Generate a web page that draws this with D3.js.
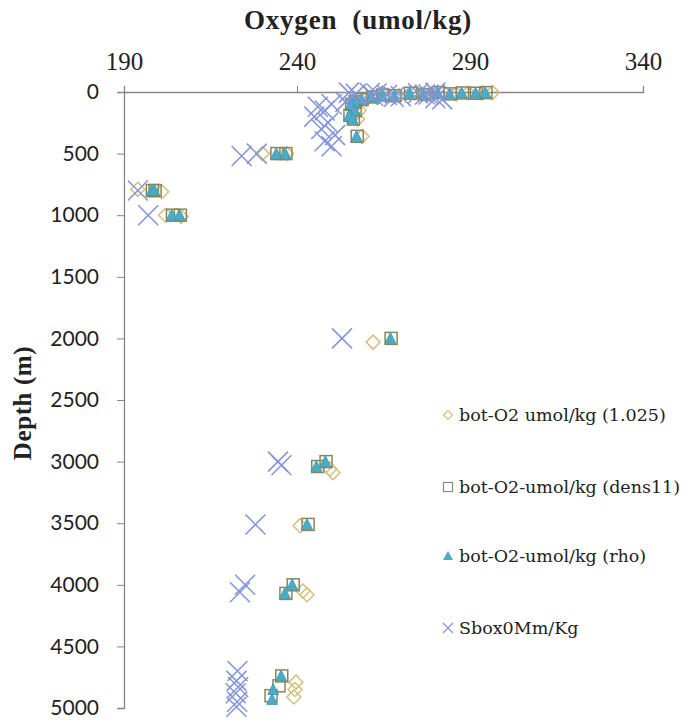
<!DOCTYPE html>
<html><head><meta charset="utf-8">
<script src="https://cdn.jsdelivr.net/npm/d3@7"></script>
<style>body{margin:0;background:#fff}</style>
</head><body>
<script>
const xTicks = [190, 240, 290, 340];
const yTicks = [0, 500, 1000, 1500, 2000, 2500, 3000, 3500, 4000, 4500, 5000];
const seriesNames = ["bot-O2 umol/kg (1.025)", "bot-O2-umol/kg (dens11)", "bot-O2-umol/kg (rho)", "Sbox0Mm/Kg"];

const d1025Depth = [5,10,8,15,5,20,10,30,25,40,60,80,100,150,190,220,360,500,500,810,790,1000,1010,2030,3060,3090,3520,4050,4080,4790,4850,4910];
const d1025O2 = [296.5,293.5,289.5,286,282.5,278.5,274,269.5,266,263,260,258,257,258,256.5,257.5,258.8,230,237,200.9,194,202,206.5,262,249.5,250.4,240.9,241.7,242.9,239.7,239.4,239.1];

const densDepth = [5,10,8,15,5,20,10,30,25,40,60,80,100,150,190,220,360,500,500,800,800,1000,1000,2000,3000,3040,3510,4000,4070,4740,4820,4900];
const densO2 = [294.6,291.8,287.8,284.3,280.8,276.8,272.8,268.3,264.8,261.8,258.8,256.8,255.8,256.8,255.3,256.3,257.4,234.2,236.8,198.2,199,204,206.3,267.2,248.4,246,243.2,238.9,236.8,235.6,234.8,232.5];

const rhoDepth = [5,10,8,15,5,20,10,30,25,40,60,80,100,150,190,220,360,500,500,800,800,1000,1000,2000,3000,3040,3510,4000,4070,4740,4850,4930];
const rhoO2 = [294.4,291.6,287.6,284.1,280.6,276.6,272.6,268.1,264.6,261.6,258.6,256.6,255.6,256.6,255.1,256.1,257.2,234,236.6,198,198.8,203.8,206.1,267,248.2,245.6,242.9,238.6,236.5,235.4,233.1,232.8];

const sboxDepth = [5,15,8,12,10,20,5,30,25,40,35,20,50,60,80,100,120,150,200,250,300,350,400,440,520,500,800,1000,2000,3000,3030,3510,4000,4060,4700,4780,4830,4880,4950,4990];
const sboxO2 = [255,257,261,263,275,277,280,262,266,268,270,278,280,282,254,250,246,248,245,249,247,251,248,250,224,228.4,194,197,253,234.5,235.5,228,225,223.5,222.8,222.5,223,222.3,222.7,222.5];

const W = 699, H = 724;
const svg = d3.select("body").append("svg").attr("width", W).attr("height", H);

const x = d3.scaleLinear().domain([190, 340]).range([124, 643]);
const y = d3.scaleLinear().domain([0, 5000]).range([92, 708]);
const axisColor = "#868686";

// x axis (top)
const gx = svg.append("g").attr("transform", `translate(0,${y(0)})`)
  .call(d3.axisTop(x).tickValues(xTicks).tickSize(6).tickPadding(16).tickFormat(d3.format("d")));
gx.select(".domain").attr("stroke", axisColor).attr("stroke-width", 1.3);
gx.selectAll(".tick line").attr("stroke", axisColor);
gx.selectAll(".tick text").attr("fill", "#222").style("font-family", "'Liberation Serif', serif").style("font-size", "25px");

// y axis
const gy = svg.append("g").attr("transform", `translate(${x(190)},0)`)
  .call(d3.axisLeft(y).tickValues(yTicks).tickSize(7).tickPadding(18).tickFormat(d3.format("d")));
gy.select(".domain").attr("stroke", axisColor).attr("stroke-width", 1.3);
gy.selectAll(".tick line").attr("stroke", axisColor);
gy.selectAll(".tick text").attr("fill", "#222").style("font-family", "Lato, sans-serif").style("font-size", "21px");

// titles
svg.append("text").attr("x", 358).attr("y", 29).attr("text-anchor", "middle")
  .style("font-family", "'Liberation Serif', serif").style("font-size", "27px").style("font-weight", "bold")
  .style("letter-spacing", "0.8px").style("white-space", "pre").attr("fill", "#222").text("Oxygen  (umol/kg)");
svg.append("text").attr("transform", "translate(31,403) rotate(-90)").attr("text-anchor", "middle")
  .style("font-family", "'Liberation Serif', serif").style("font-size", "25px").style("font-weight", "bold")
  .style("letter-spacing", "0.6px").attr("fill", "#222").text("Depth (m)");

const cDiamond = "#d6bf7c", cSquare = "#8c8558", cTri = "#4bacc6", cTriEdge = "#3a98b2", cX = "#8294da";

function pts(depths, vals) { return depths.map((d, i) => ({d, v: vals[i]})); }

const plot = svg.append("g");
plot.selectAll(".dia").data(pts(d1025Depth, d1025O2)).join("path").attr("class", "dia")
  .attr("transform", p => `translate(${x(p.v)},${y(p.d)})`)
  .attr("d", "M0,-7L7,0L0,7L-7,0Z").attr("fill", "none").attr("stroke", cDiamond).attr("stroke-width", 1.5);
plot.selectAll(".sq").data(pts(densDepth, densO2)).join("rect").attr("class", "sq")
  .attr("x", p => x(p.v) - 6).attr("y", p => y(p.d) - 6).attr("width", 12).attr("height", 12)
  .attr("fill", "none").attr("stroke", cSquare).attr("stroke-width", 1.5);
plot.selectAll(".tri").data(pts(rhoDepth, rhoO2)).join("path").attr("class", "tri")
  .attr("transform", p => `translate(${x(p.v)},${y(p.d)})`)
  .attr("d", "M0,-6L5.5,5L-5.5,5Z").attr("fill", cTri).attr("stroke", cTriEdge).attr("stroke-width", 0.8);
plot.selectAll(".xx").data(pts(sboxDepth, sboxO2)).join("path").attr("class", "xx")
  .attr("transform", p => `translate(${x(p.v)},${y(p.d)})`)
  .attr("d", "M-10,-10L10,10M-10,10L10,-10").attr("fill", "none").attr("stroke", cX).attr("stroke-width", 1.5);

// legend
const legY = [415, 487, 556, 628];
const leg = svg.append("g");
const lx = 448;
leg.append("path").attr("transform", `translate(${lx},${legY[0]})`).attr("d", "M0,-4.5L4.5,0L0,4.5L-4.5,0Z").attr("fill", "none").attr("stroke", cDiamond).attr("stroke-width", 1.2);
leg.append("rect").attr("x", lx - 4.5).attr("y", legY[1] - 4.5).attr("width", 9).attr("height", 9).attr("fill", "none").attr("stroke", "#8a8a80").attr("stroke-width", 1.2);
leg.append("path").attr("transform", `translate(${lx},${legY[2]})`).attr("d", "M0,-5L5,4L-5,4Z").attr("fill", cTri);
leg.append("path").attr("transform", `translate(${lx},${legY[3]})`).attr("d", "M-5,-5L5,5M-5,5L5,-5").attr("stroke", cX).attr("stroke-width", 1.2);
leg.selectAll("text.lg").data(seriesNames).join("text").attr("class", "lg")
  .attr("x", 459).attr("y", (d, i) => legY[i] + 6)
  .style("font-family", "'DejaVu Serif', serif").style("font-size", "17.5px").attr("fill", "#222").text(d => d);
</script>
</body></html>
